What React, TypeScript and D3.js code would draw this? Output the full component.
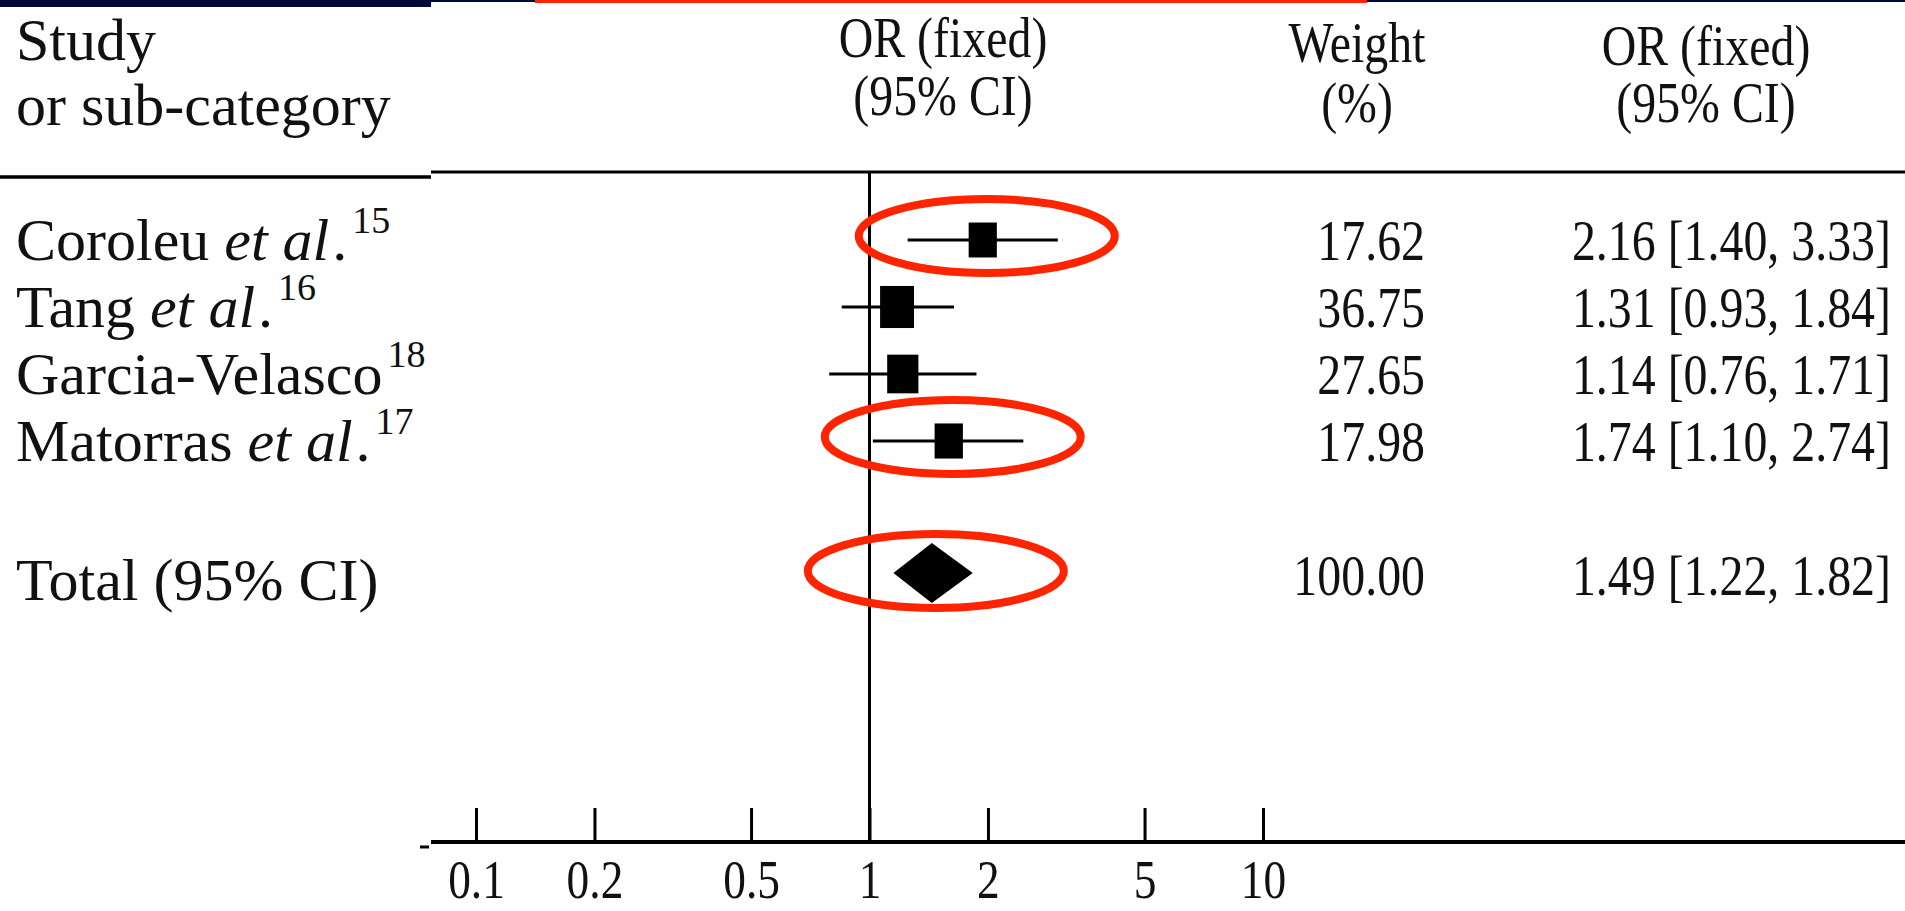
import React, { useEffect, useRef } from 'react';
import * as d3 from 'd3';

const studies = ['Coroleu', 'Tang', 'Garcia-Velasco', 'Matorras'];
const etAl = [true, true, false, true];
const refs = ['15', '16', '18', '17'];
const weights = ['17.62', '36.75', '27.65', '17.98'];
const ciLabels = ['2.16 [1.40, 3.33]', '1.31 [0.93, 1.84]', '1.14 [0.76, 1.71]', '1.74 [1.10, 2.74]'];
// where the marks actually sit on the drawn axis
const orDrawn = [1.94, 1.175, 1.215, 1.59];
const loDrawn = [1.25, 0.85, 0.79, 1.02];
const hiDrawn = [3.01, 1.64, 1.87, 2.46];
const totalLabel = 'Total (95% CI)';
const totalWeight = '100.00';
const totalCi = '1.49 [1.22, 1.82]';
const totalDrawn = [1.44, 1.15, 1.83]; // or, lo, hi
const tickValues = [0.1, 0.2, 0.5, 1, 2, 5, 10];
const ringedRows = [0, 3, 5]; // 5 = total row

const W = 1905;
const H = 911;
const FONT = '"Liberation Serif", "DejaVu Serif", serif';
const SQUEEZE = 0.84;

export default function App() {
  const ref = useRef<SVGSVGElement | null>(null);

  useEffect(() => {
    const svg = d3.select(ref.current);
    svg.selectAll('*').remove();

    const x = d3.scaleLog().domain([0.1, 10]).range([476, 1263]);
    const y = d3.scaleLinear().domain([0, 5]).range([240, 575]);
    const boxW = d3.scaleLinear().domain([17, 37]).range([28, 34]);
    const ruleY = 172;
    const axisY = 842;

    // slide chrome at top
    svg.append('rect').attr('x', 0).attr('y', 0).attr('width', 431).attr('height', 7).attr('fill', '#000838');
    svg.append('rect').attr('x', 431).attr('y', 0).attr('width', W - 431).attr('height', 2).attr('fill', '#000838');
    svg.append('rect').attr('x', 535).attr('y', 0).attr('width', 832).attr('height', 3).attr('fill', '#ff2400');

    // header rules
    svg.append('line').attr('x1', 0).attr('x2', 431).attr('y1', 177).attr('y2', 177)
      .attr('stroke', '#000').attr('stroke-width', 3.5);
    svg.append('line').attr('x1', 431).attr('x2', W).attr('y1', ruleY).attr('y2', ruleY)
      .attr('stroke', '#000').attr('stroke-width', 3);

    const squeezed = (px: number, py: number, str: string, anchor: string) => {
      svg.append('g')
        .attr('transform', `translate(${px},${py}) scale(${SQUEEZE},1)`)
        .append('text')
        .attr('text-anchor', anchor)
        .attr('font-family', FONT)
        .attr('font-size', 57)
        .attr('fill', '#111')
        .text(str);
    };

    // headers
    const plain = (px: number, py: number, str: string) =>
      svg.append('text').attr('x', px).attr('y', py).attr('font-family', FONT)
        .attr('font-size', 60).attr('fill', '#111').text(str);
    plain(16, 60, 'Study');
    plain(16, 125, 'or sub-category');
    squeezed(943, 57, 'OR (fixed)', 'middle');
    squeezed(943, 115, '(95% CI)', 'middle');
    squeezed(1357, 62, 'Weight', 'middle');
    squeezed(1357, 122, '(%)', 'middle');
    squeezed(1706, 65, 'OR (fixed)', 'middle');
    squeezed(1706, 122, '(95% CI)', 'middle');

    // study labels
    studies.forEach((name, i) => {
      const t = plain(16, y(i) + 20, etAl[i] ? name + ' ' : name);
      if (etAl[i]) {
        t.append('tspan').attr('font-style', 'italic').text('et al');
        t.append('tspan').attr('dx', 3).text('.');
      }
      t.append('tspan').attr('font-size', 38).attr('dy', -27).attr('dx', 5).text(refs[i]);
      squeezed(1425, y(i) + 20, weights[i], 'end');
      squeezed(1891, y(i) + 20, ciLabels[i], 'end');
    });
    plain(16, y(5) + 25, totalLabel);
    squeezed(1425, y(5) + 20, totalWeight, 'end');
    squeezed(1891, y(5) + 20, totalCi, 'end');

    // line of no effect
    svg.append('line').attr('x1', x(1)).attr('x2', x(1)).attr('y1', ruleY).attr('y2', axisY)
      .attr('stroke', '#000').attr('stroke-width', 3);

    // axis
    svg.append('line').attr('x1', 431).attr('x2', W).attr('y1', axisY).attr('y2', axisY)
      .attr('stroke', '#000').attr('stroke-width', 4);
    svg.append('line').attr('x1', 420).attr('x2', 429).attr('y1', 847).attr('y2', 847)
      .attr('stroke', '#000').attr('stroke-width', 3);
    const axis = d3.axisBottom(x)
      .tickValues(tickValues)
      .tickSizeInner(-34)
      .tickSizeOuter(0)
      .tickPadding(18)
      .tickFormat(d => String(d));
    const ax = svg.append('g').attr('transform', `translate(0,${axisY})`).call(axis);
    ax.select('.domain').remove();
    ax.selectAll('.tick line').attr('stroke', '#000').attr('stroke-width', 3);
    ax.selectAll('.tick text')
      .attr('font-family', FONT)
      .attr('font-size', 54)
      .attr('fill', '#111')
      .attr('transform', `scale(${SQUEEZE},1)`);

    // whiskers and boxes
    const rows = d3.range(studies.length);
    svg.selectAll('line.ci').data(rows).enter().append('line')
      .attr('class', 'ci')
      .attr('x1', i => x(loDrawn[i])).attr('x2', i => x(hiDrawn[i]))
      .attr('y1', i => y(i)).attr('y2', i => y(i))
      .attr('stroke', '#000').attr('stroke-width', 3);
    svg.selectAll('rect.box').data(rows).enter().append('rect')
      .attr('class', 'box')
      .attr('x', i => x(orDrawn[i]) - boxW(+weights[i]) / 2)
      .attr('y', i => y(i) - boxW(+weights[i]) * 0.62)
      .attr('width', i => boxW(+weights[i]))
      .attr('height', i => boxW(+weights[i]) * 1.24)
      .attr('fill', '#000');

    // pooled diamond
    const ty = y(5) - 2;
    svg.append('path')
      .attr('d', `M${x(totalDrawn[1])},${ty} L${x(totalDrawn[0])},${ty - 30} L${x(totalDrawn[2])},${ty} L${x(totalDrawn[0])},${ty + 30} Z`)
      .attr('fill', '#000');

    // red rings drawn over the figure
    const centre = (r: number) => (r === 5 ? totalDrawn[0] : orDrawn[r]);
    svg.selectAll('ellipse.ring').data(ringedRows).enter().append('ellipse')
      .attr('class', 'ring')
      .attr('cx', r => x(centre(r)) + 4)
      .attr('cy', r => y(r) - 4)
      .attr('rx', 128)
      .attr('ry', 37)
      .attr('fill', 'none')
      .attr('stroke', '#ff2400')
      .attr('stroke-width', 8);
  }, []);

  return (
    <svg
      ref={ref}
      width={W}
      height={H}
      style={{ position: 'absolute', left: 0, top: 0, background: '#fff', display: 'block' }}
    />
  );
}
